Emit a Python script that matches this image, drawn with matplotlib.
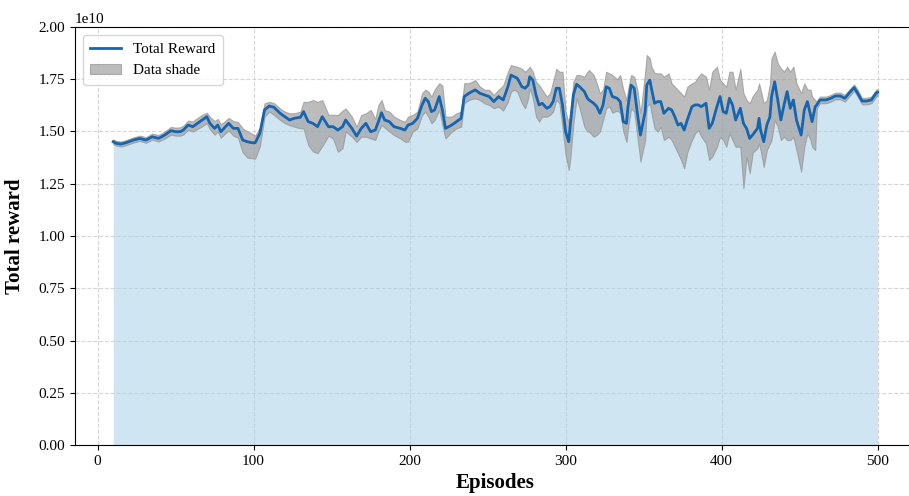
import matplotlib
matplotlib.use("Agg")
import matplotlib.pyplot as plt
import numpy as np

plt.rcParams['font.family'] = ['Liberation Serif', 'DejaVu Serif']

# Episode index of each reading
episodes = [
    10, 12, 15, 18, 23, 27, 31, 35, 39, 43, 47, 50, 53, 55, 58, 61, 64, 67, 70, 72,
    75, 77, 79, 81, 84, 87, 90, 93, 96, 99, 101, 104, 107, 110, 113, 117, 120, 123, 126, 130,
    132, 135, 138, 141, 144, 148, 151, 154, 157, 159, 163, 166, 169, 172, 175, 178, 180, 182, 184, 187,
    190, 194, 197, 199, 202, 205, 208, 210, 212, 214, 216, 219, 221, 223, 227, 230, 233, 235, 238, 242,
    245, 248, 251, 254, 257, 260, 263, 265, 267, 269, 272, 274, 276, 277, 279, 281, 283, 285, 288, 290,
    292, 294, 296, 298, 300, 302, 303, 305, 307, 309, 312, 314, 315, 318, 320, 322, 324, 326, 328, 330,
    333, 335, 337, 339, 340, 342, 344, 346, 348, 351, 352, 354, 355, 357, 359, 361, 363, 366, 368, 370,
    372, 374, 376, 378, 381, 383, 385, 387, 390, 392, 394, 397, 399, 401, 403, 405, 407, 409, 412, 414,
    416, 418, 420, 423, 424, 425, 427, 429, 431, 432, 434, 436, 438, 440, 442, 444, 446, 448, 451, 453,
    455, 457, 458, 460, 461, 463, 467, 470, 473, 476, 479, 482, 485, 487, 490, 493, 496, 499, 500,
]

# Smoothed total reward (units of 1e10)
reward_mean = [
    1.451, 1.443, 1.440, 1.446, 1.459, 1.467, 1.459, 1.475, 1.467, 1.483, 1.504, 1.499, 1.499, 1.507, 1.531, 1.523, 1.539, 1.555, 1.571, 1.539,
    1.515, 1.531, 1.499, 1.515, 1.539, 1.515, 1.515, 1.459, 1.451, 1.446, 1.446, 1.491, 1.603, 1.622, 1.616, 1.587, 1.571, 1.555, 1.563, 1.568,
    1.595, 1.547, 1.539, 1.523, 1.571, 1.523, 1.523, 1.507, 1.523, 1.555, 1.515, 1.478, 1.515, 1.539, 1.499, 1.507, 1.547, 1.590, 1.555, 1.547,
    1.523, 1.515, 1.507, 1.531, 1.539, 1.563, 1.627, 1.659, 1.643, 1.595, 1.603, 1.667, 1.603, 1.515, 1.531, 1.547, 1.563, 1.667, 1.683, 1.699,
    1.683, 1.675, 1.667, 1.643, 1.667, 1.651, 1.714, 1.770, 1.762, 1.755, 1.714, 1.707, 1.722, 1.762, 1.746, 1.675, 1.627, 1.635, 1.611, 1.619,
    1.643, 1.707, 1.707, 1.627, 1.499, 1.451, 1.531, 1.675, 1.726, 1.714, 1.691, 1.659, 1.651, 1.635, 1.619, 1.587, 1.627, 1.714, 1.707, 1.667,
    1.659, 1.643, 1.547, 1.539, 1.619, 1.722, 1.707, 1.587, 1.483, 1.595, 1.722, 1.746, 1.707, 1.635, 1.643, 1.643, 1.587, 1.611, 1.603, 1.571,
    1.531, 1.539, 1.507, 1.555, 1.619, 1.627, 1.627, 1.619, 1.635, 1.515, 1.539, 1.619, 1.667, 1.595, 1.587, 1.659, 1.627, 1.555, 1.611, 1.539,
    1.515, 1.467, 1.485, 1.515, 1.563, 1.507, 1.451, 1.531, 1.571, 1.667, 1.738, 1.651, 1.555, 1.627, 1.691, 1.611, 1.651, 1.555, 1.483, 1.603,
    1.643, 1.579, 1.547, 1.619, 1.627, 1.651, 1.651, 1.659, 1.670, 1.670, 1.659, 1.686, 1.710, 1.686, 1.646, 1.646, 1.651, 1.683, 1.688,
]

# Lower edge of the shaded spread (units of 1e10)
reward_low = [
    1.440, 1.432, 1.428, 1.434, 1.447, 1.455, 1.446, 1.461, 1.452, 1.466, 1.485, 1.480, 1.480, 1.486, 1.508, 1.500, 1.512, 1.525, 1.540, 1.510,
    1.485, 1.500, 1.470, 1.485, 1.505, 1.480, 1.470, 1.400, 1.375, 1.372, 1.370, 1.430, 1.571, 1.595, 1.580, 1.555, 1.540, 1.530, 1.523, 1.515,
    1.515, 1.435, 1.405, 1.396, 1.430, 1.480, 1.465, 1.403, 1.420, 1.500, 1.475, 1.450, 1.475, 1.475, 1.467, 1.460, 1.500, 1.531, 1.519, 1.500,
    1.483, 1.467, 1.451, 1.451, 1.499, 1.515, 1.579, 1.595, 1.571, 1.539, 1.555, 1.603, 1.531, 1.467, 1.499, 1.515, 1.523, 1.635, 1.651, 1.659,
    1.651, 1.635, 1.627, 1.611, 1.619, 1.600, 1.643, 1.691, 1.699, 1.691, 1.635, 1.611, 1.659, 1.707, 1.659, 1.571, 1.547, 1.571, 1.571, 1.579,
    1.595, 1.651, 1.635, 1.520, 1.388, 1.316, 1.370, 1.539, 1.659, 1.611, 1.523, 1.500, 1.499, 1.475, 1.483, 1.500, 1.555, 1.611, 1.620, 1.590,
    1.600, 1.590, 1.500, 1.450, 1.515, 1.611, 1.595, 1.475, 1.356, 1.459, 1.619, 1.635, 1.590, 1.515, 1.499, 1.523, 1.459, 1.475, 1.459, 1.427,
    1.396, 1.364, 1.324, 1.400, 1.459, 1.491, 1.507, 1.475, 1.443, 1.364, 1.380, 1.427, 1.475, 1.459, 1.427, 1.491, 1.459, 1.427, 1.427, 1.228,
    1.380, 1.300, 1.400, 1.420, 1.443, 1.411, 1.330, 1.411, 1.443, 1.459, 1.555, 1.523, 1.459, 1.475, 1.459, 1.459, 1.475, 1.411, 1.308, 1.427,
    1.491, 1.459, 1.427, 1.411, 1.611, 1.635, 1.635, 1.643, 1.654, 1.654, 1.643, 1.670, 1.694, 1.670, 1.630, 1.630, 1.635, 1.667, 1.672,
]

# Upper edge of the shaded spread (units of 1e10)
reward_high = [
    1.462, 1.455, 1.452, 1.458, 1.472, 1.480, 1.473, 1.490, 1.483, 1.500, 1.522, 1.518, 1.520, 1.528, 1.552, 1.548, 1.565, 1.580, 1.590, 1.570,
    1.550, 1.560, 1.535, 1.545, 1.565, 1.550, 1.545, 1.515, 1.500, 1.490, 1.480, 1.520, 1.635, 1.642, 1.636, 1.610, 1.595, 1.587, 1.587, 1.595,
    1.642, 1.642, 1.650, 1.642, 1.650, 1.580, 1.580, 1.579, 1.600, 1.610, 1.571, 1.523, 1.579, 1.587, 1.603, 1.560, 1.627, 1.651, 1.603, 1.595,
    1.571, 1.555, 1.547, 1.571, 1.579, 1.595, 1.683, 1.700, 1.691, 1.667, 1.700, 1.731, 1.720, 1.571, 1.571, 1.587, 1.595, 1.731, 1.731, 1.746,
    1.715, 1.700, 1.699, 1.675, 1.700, 1.720, 1.786, 1.818, 1.813, 1.810, 1.800, 1.786, 1.800, 1.810, 1.786, 1.738, 1.722, 1.699, 1.667, 1.683,
    1.738, 1.800, 1.786, 1.786, 1.595, 1.539, 1.595, 1.738, 1.770, 1.770, 1.762, 1.786, 1.794, 1.770, 1.730, 1.683, 1.700, 1.786, 1.778, 1.770,
    1.750, 1.770, 1.700, 1.650, 1.700, 1.770, 1.762, 1.700, 1.587, 1.786, 1.866, 1.850, 1.810, 1.780, 1.778, 1.778, 1.762, 1.778, 1.730, 1.714,
    1.699, 1.683, 1.667, 1.714, 1.730, 1.738, 1.762, 1.778, 1.762, 1.699, 1.786, 1.810, 1.746, 1.730, 1.714, 1.786, 1.786, 1.700, 1.800, 1.683,
    1.650, 1.635, 1.670, 1.700, 1.730, 1.700, 1.635, 1.650, 1.730, 1.850, 1.882, 1.826, 1.802, 1.786, 1.810, 1.786, 1.810, 1.730, 1.683, 1.730,
    1.700, 1.700, 1.667, 1.651, 1.643, 1.667, 1.667, 1.675, 1.686, 1.686, 1.675, 1.702, 1.725, 1.702, 1.661, 1.661, 1.667, 1.699, 1.703,
]

x = np.array(episodes)
scale = 1e10
mean = np.array(reward_mean) * scale
low = np.array(reward_low) * scale
high = np.array(reward_high) * scale

fig = plt.figure(figsize=(9.09, 4.96), dpi=100)
ax = fig.add_axes([0.0825, 0.1028, 0.925, 0.8428])

ax.fill_between(x, 0, mean, color='#a9d3e8', alpha=0.55, linewidth=0, zorder=1)
shade = ax.fill_between(x, low, high, color='#a0a0a0', alpha=0.7, linewidth=0.8,
                        edgecolor='#939393', label='Data shade', zorder=2)
line, = ax.plot(x, mean, color='#1565b0', linewidth=2.0, label='Total Reward',
                solid_joinstyle='round', zorder=3)

ax.set_xlim(-14.5, 524.5)
ax.set_ylim(0, 2.0e10)
ax.set_xticks([0, 100, 200, 300, 400, 500])
ax.set_yticks(np.arange(0, 2.01, 0.25) * scale)
ax.ticklabel_format(axis='y', style='sci', scilimits=(0, 0), useMathText=False)

ax.grid(True, linestyle='--', color='#cccccc', linewidth=0.8, alpha=0.8, zorder=0)
ax.set_axisbelow(True)

ax.tick_params(labelsize=11)
ax.yaxis.get_offset_text().set_fontsize(11)

ax.set_xlabel('Episodes', fontsize=15, fontweight='bold', labelpad=4)
ax.set_ylabel('Total reward', fontsize=15, fontweight='bold', labelpad=10)

ax.legend(handles=[line, shade], loc='upper left', fontsize=11,
          framealpha=0.8, borderpad=0.5)

fig.savefig('out.png', dpi=100)
